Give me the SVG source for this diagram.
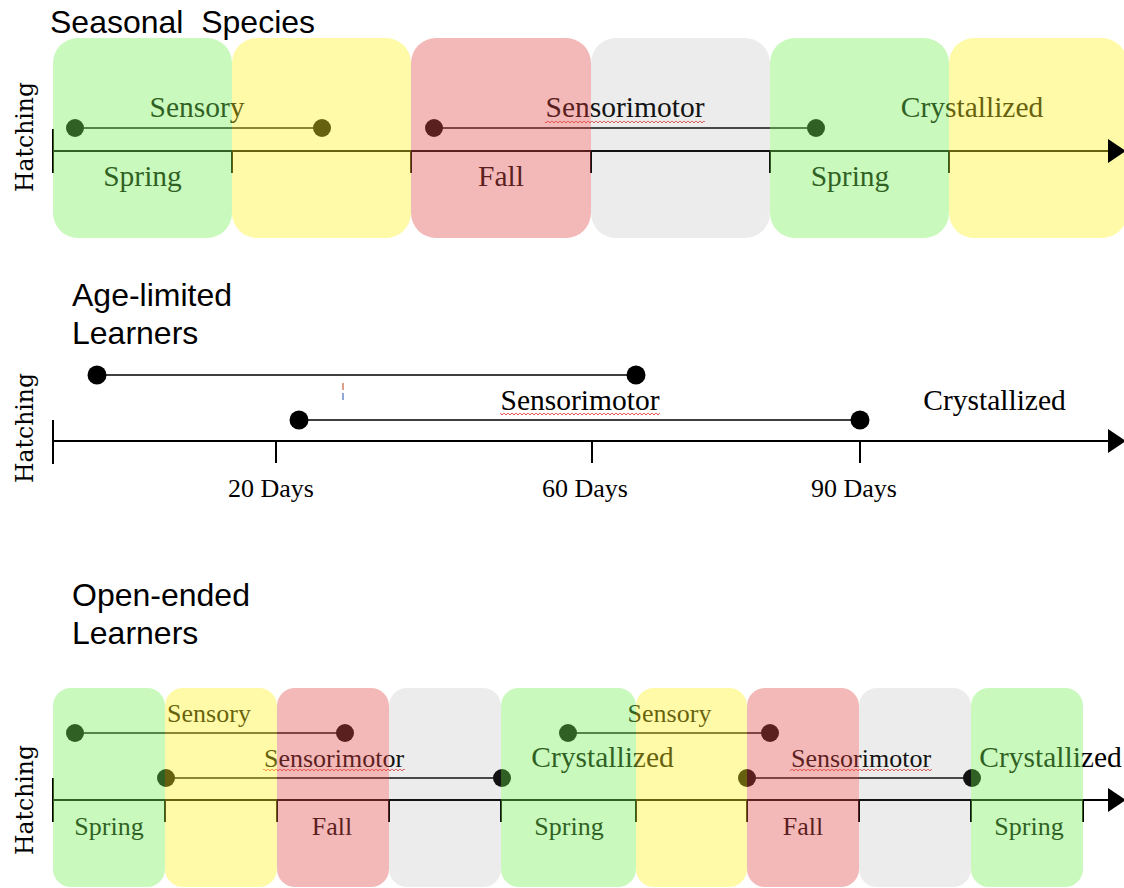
<svg xmlns="http://www.w3.org/2000/svg" width="1124" height="888" viewBox="0 0 1124 888">
<style>
.title{font-family:"Liberation Sans",Arial,sans-serif;font-size:32px;fill:#000;white-space:pre}
.hatch{font-family:"DejaVu Serif",serif;font-size:23.5px;fill:#000}
.lbl{font-family:"Liberation Serif","Times New Roman",serif;font-size:29.5px;fill:#000}
.sm{font-family:"Liberation Serif","Times New Roman",serif;font-size:26px;fill:#000}
.axis{stroke:#000;stroke-width:2;fill:none}
.span{stroke:#000;stroke-width:1.6;fill:none}
.dot{fill:#000}
.g{fill:rgb(120,240,88);opacity:0.4}
.y{fill:rgb(255,242,37);opacity:0.4}
.r{fill:rgb(225,80,80);opacity:0.4}
.k{fill:rgb(128,128,128);opacity:0.15}
.sq{fill:url(#squig)}
.head{fill:#000}
</style>
<defs>
<pattern id="squig" width="4" height="4" patternUnits="userSpaceOnUse">
<path d="M0,0.8 L2,3 L4,0.8" stroke="#e0403c" stroke-width="0.9" fill="none"/>
</pattern>
</defs>
<rect width="1124" height="888" fill="#fff"/>

<!-- Section 1: Seasonal Species -->
<g id="seasonal">
<text class="title" x="50" y="33">Seasonal  Species</text>
<text class="hatch" transform="translate(33,137) rotate(-90)" text-anchor="middle">Hatching</text>
<g id="s1-connectors">
<path class="axis" d="M53,151 H1110"/>
<path class="axis" d="M53,129 V173 M232,151 V173 M411,151 V173 M591,151 V173 M770,151 V173 M949,151 V173"/>
<path class="span" d="M75,128 H322 M434,128 H816"/>
<circle class="dot" cx="75" cy="128" r="9"/>
<circle class="dot" cx="322" cy="128" r="9"/>
<circle class="dot" cx="434" cy="128" r="9"/>
<circle class="dot" cx="816" cy="128" r="9"/>
</g>
<g id="s1-labels">
<text class="lbl" x="197" y="117" text-anchor="middle">Sensory</text>
<text class="lbl" x="625" y="117" text-anchor="middle">Sensorimotor</text>
<rect class="sq" x="545" y="119" width="160" height="4"/>
<text class="lbl" x="972" y="117" text-anchor="middle">Crystallized</text>
<text class="lbl" x="142.5" y="186" text-anchor="middle">Spring</text>
<text class="lbl" x="501" y="186" text-anchor="middle">Fall</text>
<text class="lbl" x="850" y="186" text-anchor="middle">Spring</text>
</g>
<g id="s1-seasons">
<rect id="s1-spring1" class="g" x="53" y="38" width="179" height="200" rx="25"/>
<rect id="s1-summer1" class="y" x="232" y="38" width="179" height="200" rx="25"/>
<rect id="s1-fall" class="r" x="411" y="38" width="180" height="200" rx="25"/>
<rect id="s1-winter" class="k" x="591" y="38" width="179" height="200" rx="25"/>
<rect id="s1-spring2" class="g" x="770" y="38" width="179" height="200" rx="25"/>
<rect id="s1-summer2" class="y" x="949" y="38" width="178" height="200" rx="25"/>
</g>
<path class="head" d="M1108,139 L1126,151 L1108,163 Z"/>
</g>

<!-- Section 2: Age-limited Learners -->
<g id="agelimited">
<text class="title" x="72" y="306">Age-limited</text>
<text class="title" x="72" y="344">Learners</text>
<text class="hatch" transform="translate(33,428) rotate(-90)" text-anchor="middle">Hatching</text>
<g id="s2-connectors">
<path class="axis" d="M53,441 H1110"/>
<path class="head" d="M1108,429 L1126,441 L1108,453 Z"/>
<path class="axis" d="M53,420 V464 M276,441 V463 M592,441 V463 M860,441 V463"/>
<path class="span" d="M97,375 H636 M299,420 H860"/>
<circle class="dot" cx="97" cy="375" r="9.5"/>
<circle class="dot" cx="636" cy="375" r="9.5"/>
<circle class="dot" cx="299" cy="420" r="9.5"/>
<circle class="dot" cx="860" cy="420" r="9.5"/>
<path d="M343,383 V390" stroke="#c8603c" stroke-width="1.2"/>
<path d="M343,393 V400" stroke="#4a6cc0" stroke-width="1.2"/>
</g>
<g id="s2-labels">
<text class="lbl" x="580" y="410" text-anchor="middle">Sensorimotor</text>
<rect class="sq" x="500" y="412" width="160" height="4"/>
<text class="lbl" x="994.5" y="410" text-anchor="middle">Crystallized</text>
<text class="sm" x="271" y="497" text-anchor="middle">20 Days</text>
<text class="sm" x="585" y="497" text-anchor="middle">60 Days</text>
<text class="sm" x="854" y="497" text-anchor="middle">90 Days</text>
</g>
</g>

<!-- Section 3: Open-ended Learners -->
<g id="openended">
<text class="title" x="72" y="606">Open-ended</text>
<text class="title" x="72" y="644">Learners</text>
<text class="hatch" transform="translate(33,800) rotate(-90)" text-anchor="middle">Hatching</text>
<g id="s3-connectors">
<path class="axis" d="M53,800 H1110"/>
<path class="head" d="M1108,788 L1126,800 L1108,812 Z"/>
<path class="axis" d="M53,778 V822 M165,800 V822 M277,800 V822 M389,800 V822 M501,800 V822 M636,800 V822 M747,800 V822 M859,800 V822 M971,800 V822 M1083,800 V822"/>
<path class="span" d="M75,733 H345 M166,778 H502 M568,733 H770 M747,778 H972"/>
<circle class="dot" cx="75" cy="733" r="9"/>
<circle class="dot" cx="345" cy="733" r="9"/>
<circle class="dot" cx="166" cy="778" r="9"/>
<circle class="dot" cx="502" cy="778" r="9"/>
<circle class="dot" cx="568" cy="733" r="9"/>
<circle class="dot" cx="770" cy="733" r="9"/>
<circle class="dot" cx="747" cy="778" r="9"/>
<circle class="dot" cx="972" cy="778" r="9"/>
</g>
<g id="s3-labels">
<text class="sm" x="209" y="722" text-anchor="middle">Sensory</text>
<text class="sm" x="334" y="767" text-anchor="middle">Sensorimotor</text>
<rect class="sq" x="263" y="769" width="142" height="4"/>
<text class="lbl" x="602.5" y="767" text-anchor="middle">Crystallized</text>
<text class="sm" x="669.5" y="722" text-anchor="middle">Sensory</text>
<text class="sm" x="861" y="767" text-anchor="middle">Sensorimotor</text>
<rect class="sq" x="790" y="769" width="142" height="4"/>
<text class="lbl" x="1050.5" y="767" text-anchor="middle">Crystallized</text>
<text class="sm" x="109" y="835" text-anchor="middle">Spring</text>
<text class="sm" x="332" y="835" text-anchor="middle">Fall</text>
<text class="sm" x="569" y="835" text-anchor="middle">Spring</text>
<text class="sm" x="803" y="835" text-anchor="middle">Fall</text>
<text class="sm" x="1029" y="835" text-anchor="middle">Spring</text>
</g>
<g id="s3-seasons">
<rect id="s3-spring1" class="g" x="53" y="688" width="112" height="199" rx="18"/>
<rect id="s3-summer1" class="y" x="165" y="688" width="112" height="199" rx="18"/>
<rect id="s3-fall1" class="r" x="277" y="688" width="112" height="199" rx="18"/>
<rect id="s3-winter1" class="k" x="389" y="688" width="112" height="199" rx="18"/>
<rect id="s3-spring2" class="g" x="501" y="688" width="135" height="199" rx="18"/>
<rect id="s3-summer2" class="y" x="636" y="688" width="111" height="199" rx="18"/>
<rect id="s3-fall2" class="r" x="747" y="688" width="112" height="199" rx="18"/>
<rect id="s3-winter2" class="k" x="859" y="688" width="112" height="199" rx="18"/>
<rect id="s3-spring3" class="g" x="971" y="688" width="112" height="199" rx="18"/>
</g>
</g>
</svg>
